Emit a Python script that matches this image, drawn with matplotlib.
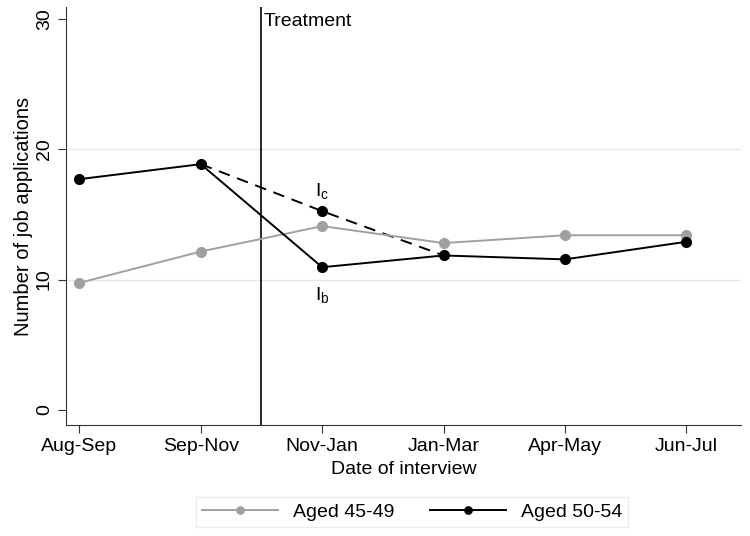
import matplotlib
matplotlib.use('Agg')
import matplotlib.pyplot as plt

plt.rcParams['font.family'] = ['Liberation Sans', 'DejaVu Sans']

periods = ['Aug-Sep', 'Sep-Nov', 'Nov-Jan', 'Jan-Mar', 'Apr-May', 'Jun-Jul']
aged_45_49 = [9.75, 12.15, 14.1, 12.8, 13.4, 13.4]
aged_50_54 = [17.7, 18.85, 10.95, 11.85, 11.55, 12.9]
counterfactual_x = [1, 2, 3]
counterfactual = [18.85, 15.25, 11.85]
treatment_x = 1.5

x = list(range(len(periods)))
fs = 14

fig = plt.figure(figsize=(7.5, 5.36), dpi=100)
ax = fig.add_axes([0.088, 0.207, 0.90, 0.78])

for yg in [10, 20]:
    ax.axhline(yg, color='#e6e6e6', lw=1, zorder=0)

ax.plot(x, aged_45_49, color='#a0a0a0', marker='o', ms=7, lw=1.4, label='Aged 45-49', zorder=3)
ax.plot(counterfactual_x, counterfactual, color='black', ls=(0, (6, 4)), lw=1.4, zorder=2)
ax.plot(x, aged_50_54, color='black', marker='o', ms=7, lw=1.4, label='Aged 50-54', zorder=4)
ax.plot(counterfactual_x[1], counterfactual[1], 'o', color='black', ms=7, zorder=4)

ax.axvline(treatment_x, color='black', lw=1.2)
ax.text(treatment_x + 0.02, 30.45, 'Treatment', fontsize=fs, va='top', ha='left')
ax.text(2, 15.95, r'I$_\mathregular{c}$', fontsize=fs, ha='center', va='bottom')
ax.text(2, 9.5, r'I$_\mathregular{b}$', fontsize=fs, ha='center', va='top')

ax.set_xlim(-0.11, 5.45)
ax.set_ylim(-1.15, 30.9)
ax.set_xticks(x)
ax.set_xticklabels(periods, fontsize=fs)
ax.set_yticks([0, 10, 20, 30])
ax.set_yticklabels(['0', '10', '20', '30'], fontsize=fs, rotation=90, va='center')
ax.tick_params(length=6, color='#333333')
ax.set_xlabel('Date of interview', fontsize=fs, labelpad=4)
ax.set_ylabel('Number of job applications', fontsize=fs + 0.5, labelpad=2)

for s in ['top', 'right']:
    ax.spines[s].set_visible(False)
for s in ['left', 'bottom']:
    ax.spines[s].set_color('#333333')

leg = ax.legend(loc='upper center', bbox_to_anchor=(0.513, -0.15), ncol=2, fontsize=fs,
                frameon=True, fancybox=False, edgecolor='#e6e6e6', handlelength=3.9,
                columnspacing=1.8, markerscale=0.75, borderpad=0.3)

fig.savefig('out.png', dpi=100)
